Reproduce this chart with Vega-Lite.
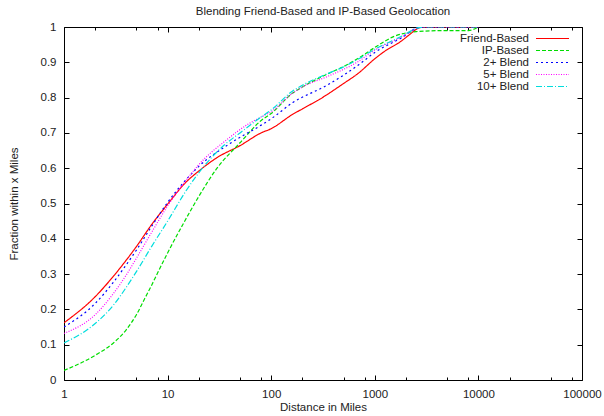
{
  "$schema": "https://vega.github.io/schema/vega-lite/v6.json",
  "width": 518,
  "height": 353,
  "autosize": "none",
  "padding": {"left": 64, "top": 27, "right": 22, "bottom": 36},
  "background": "white",
  "config": {
    "font": "Liberation Sans",
    "view": {"stroke": null},
    "axis": {"labelFont": "Liberation Sans", "titleFont": "Liberation Sans", "labelFontSize": 11.5, "titleFontSize": 11.5, "titleFontWeight": "normal", "labelColor": "#222", "titleColor": "#222", "domainColor": "#000", "tickColor": "#000", "grid": false, "domainWidth": 1, "tickWidth": 1}
  },
  "title": {"text": "Blending Friend-Based and IP-Based Geolocation", "font": "Liberation Sans", "fontSize": 11.5, "fontWeight": "normal", "color": "#222", "offset": 4},
  "data": {"values": [
    {"s":"Friend-Based","x":1,"y":0.162},{"s":"Friend-Based","x":2,"y":0.236},{"s":"Friend-Based","x":3,"y":0.294},{"s":"Friend-Based","x":4,"y":0.34},{"s":"Friend-Based","x":5,"y":0.378},{"s":"Friend-Based","x":7,"y":0.44},{"s":"Friend-Based","x":10,"y":0.498},{"s":"Friend-Based","x":15,"y":0.56},{"s":"Friend-Based","x":20,"y":0.592},{"s":"Friend-Based","x":30,"y":0.63},{"s":"Friend-Based","x":50,"y":0.664},{"s":"Friend-Based","x":80,"y":0.7},{"s":"Friend-Based","x":100,"y":0.712},{"s":"Friend-Based","x":160,"y":0.752},{"s":"Friend-Based","x":200,"y":0.768},{"s":"Friend-Based","x":300,"y":0.797},{"s":"Friend-Based","x":500,"y":0.84},{"s":"Friend-Based","x":700,"y":0.87},{"s":"Friend-Based","x":1000,"y":0.91},{"s":"Friend-Based","x":1300,"y":0.935},{"s":"Friend-Based","x":1700,"y":0.955},{"s":"Friend-Based","x":2200,"y":0.98},{"s":"Friend-Based","x":2600,"y":0.996},{"s":"Friend-Based","x":3000,"y":1},{"s":"Friend-Based","x":10000,"y":1},
    {"s":"IP-Based","x":1,"y":0.027},{"s":"IP-Based","x":2,"y":0.07},{"s":"IP-Based","x":3,"y":0.105},{"s":"IP-Based","x":4,"y":0.143},{"s":"IP-Based","x":5,"y":0.185},{"s":"IP-Based","x":6,"y":0.23},{"s":"IP-Based","x":7,"y":0.268},{"s":"IP-Based","x":8,"y":0.303},{"s":"IP-Based","x":10,"y":0.36},{"s":"IP-Based","x":14,"y":0.44},{"s":"IP-Based","x":20,"y":0.52},{"s":"IP-Based","x":30,"y":0.6},{"s":"IP-Based","x":50,"y":0.672},{"s":"IP-Based","x":80,"y":0.735},{"s":"IP-Based","x":100,"y":0.755},{"s":"IP-Based","x":160,"y":0.812},{"s":"IP-Based","x":200,"y":0.83},{"s":"IP-Based","x":350,"y":0.867},{"s":"IP-Based","x":500,"y":0.888},{"s":"IP-Based","x":700,"y":0.912},{"s":"IP-Based","x":1000,"y":0.942},{"s":"IP-Based","x":1500,"y":0.972},{"s":"IP-Based","x":2500,"y":0.987},{"s":"IP-Based","x":5000,"y":0.99},{"s":"IP-Based","x":8000,"y":0.99},{"s":"IP-Based","x":10000,"y":1},
    {"s":"2+ Blend","x":1,"y":0.15},{"s":"2+ Blend","x":2,"y":0.217},{"s":"2+ Blend","x":3,"y":0.277},{"s":"2+ Blend","x":4,"y":0.327},{"s":"2+ Blend","x":5,"y":0.368},{"s":"2+ Blend","x":7,"y":0.435},{"s":"2+ Blend","x":10,"y":0.503},{"s":"2+ Blend","x":15,"y":0.567},{"s":"2+ Blend","x":20,"y":0.605},{"s":"2+ Blend","x":40,"y":0.67},{"s":"2+ Blend","x":80,"y":0.722},{"s":"2+ Blend","x":100,"y":0.74},{"s":"2+ Blend","x":160,"y":0.785},{"s":"2+ Blend","x":350,"y":0.836},{"s":"2+ Blend","x":700,"y":0.893},{"s":"2+ Blend","x":1000,"y":0.928},{"s":"2+ Blend","x":1900,"y":0.973},{"s":"2+ Blend","x":2500,"y":0.996},{"s":"2+ Blend","x":3000,"y":1},{"s":"2+ Blend","x":10000,"y":1},
    {"s":"5+ Blend","x":1,"y":0.132},{"s":"5+ Blend","x":2,"y":0.185},{"s":"5+ Blend","x":3,"y":0.245},{"s":"5+ Blend","x":4,"y":0.298},{"s":"5+ Blend","x":5,"y":0.345},{"s":"5+ Blend","x":7,"y":0.418},{"s":"5+ Blend","x":10,"y":0.493},{"s":"5+ Blend","x":15,"y":0.565},{"s":"5+ Blend","x":20,"y":0.61},{"s":"5+ Blend","x":37,"y":0.68},{"s":"5+ Blend","x":60,"y":0.725},{"s":"5+ Blend","x":80,"y":0.745},{"s":"5+ Blend","x":100,"y":0.76},{"s":"5+ Blend","x":160,"y":0.812},{"s":"5+ Blend","x":200,"y":0.83},{"s":"5+ Blend","x":350,"y":0.86},{"s":"5+ Blend","x":700,"y":0.903},{"s":"5+ Blend","x":1000,"y":0.935},{"s":"5+ Blend","x":1900,"y":0.975},{"s":"5+ Blend","x":2500,"y":0.996},{"s":"5+ Blend","x":3000,"y":1},{"s":"5+ Blend","x":10000,"y":1},
    {"s":"10+ Blend","x":1,"y":0.105},{"s":"10+ Blend","x":2,"y":0.16},{"s":"10+ Blend","x":3,"y":0.212},{"s":"10+ Blend","x":4,"y":0.263},{"s":"10+ Blend","x":5,"y":0.307},{"s":"10+ Blend","x":7,"y":0.378},{"s":"10+ Blend","x":10,"y":0.45},{"s":"10+ Blend","x":15,"y":0.535},{"s":"10+ Blend","x":20,"y":0.587},{"s":"10+ Blend","x":35,"y":0.665},{"s":"10+ Blend","x":50,"y":0.7},{"s":"10+ Blend","x":80,"y":0.745},{"s":"10+ Blend","x":100,"y":0.765},{"s":"10+ Blend","x":160,"y":0.818},{"s":"10+ Blend","x":200,"y":0.835},{"s":"10+ Blend","x":350,"y":0.868},{"s":"10+ Blend","x":500,"y":0.887},{"s":"10+ Blend","x":700,"y":0.91},{"s":"10+ Blend","x":1000,"y":0.937},{"s":"10+ Blend","x":1900,"y":0.977},{"s":"10+ Blend","x":2500,"y":0.996},{"s":"10+ Blend","x":3000,"y":1},{"s":"10+ Blend","x":10000,"y":1}
  ]},
  "layer": [
    {
      "mark": {"type": "line", "strokeWidth": 1.2, "interpolate": "monotone", "clip": true},
      "encoding": {
        "x": {"field": "x", "type": "quantitative",
          "scale": {"type": "log", "domain": [1, 100000], "nice": false},
          "axis": {"orient": "bottom", "title": "Distance in Miles", "titlePadding": 0,
            "values": [1,2,5,8,10,20,50,80,100,200,500,800,1000,2000,5000,8000,10000,20000,50000,80000,100000],
            "format": "d", "labelOverlap": false, "labelFlush": false,
            "labelExpr": "indexof([1,10,100,1000,10000,100000], datum.value) >= 0 ? datum.label : ''",
            "tickSize": {"condition": {"test": "indexof([1,10,100,1000,10000,100000], datum.value) >= 0", "value": -5}, "value": -3},
            "labelPadding": 13}},
        "y": {"field": "y", "type": "quantitative",
          "scale": {"domain": [0, 1], "nice": false, "zero": false},
          "axis": {"orient": "left", "title": "Fraction within x Miles", "titlePadding": 21,
            "values": [0,0.1,0.2,0.3,0.4,0.5,0.6,0.7,0.8,0.9,1], "format": ".1~f",
            "tickSize": -5, "labelPadding": 13}},
        "color": {"field": "s", "type": "nominal",
          "scale": {"domain": ["Friend-Based","IP-Based","2+ Blend","5+ Blend","10+ Blend"], "range": ["#ff0000","#00dd00","#0000ff","#ff00ff","#00dddd"]},
          "legend": {"title": null, "orient": "none", "legendX": 482, "legendY": 5, "symbolType": "M-3,0L3,0", "symbolSize": 121, "symbolStrokeWidth": 1.2,
            "labelAlign": "right", "labelOffset": -30, "labelFontSize": 11.5, "labelFont": "Liberation Sans", "labelColor": "#222", "rowPadding": 0}},
        "strokeDash": {"field": "s", "type": "nominal",
          "scale": {"domain": ["Friend-Based","IP-Based","2+ Blend","5+ Blend","10+ Blend"], "range": [[1,0],[4,2],[2,3],[1,1.5],[6,2,1,2]]},
          "legend": null}
      }
    },
    {
      "mark": {"type": "line", "strokeOpacity": 0},
      "encoding": {
        "x": {"field": "x", "type": "quantitative",
          "axis": {"orient": "top", "title": null, "labels": false,
            "values": [1,2,5,8,10,20,50,80,100,200,500,800,1000,2000,5000,8000,10000,20000,50000,80000,100000],
            "tickSize": {"condition": {"test": "indexof([1,10,100,1000,10000,100000], datum.value) >= 0", "value": -5}, "value": -3}}},
        "y": {"field": "y", "type": "quantitative",
          "axis": {"orient": "right", "title": null, "labels": false,
            "values": [0,0.1,0.2,0.3,0.4,0.5,0.6,0.7,0.8,0.9,1], "tickSize": -5}},
        "detail": {"field": "s"}
      }
    }
  ],
  "resolve": {"axis": {"x": "independent", "y": "independent"}}
}
